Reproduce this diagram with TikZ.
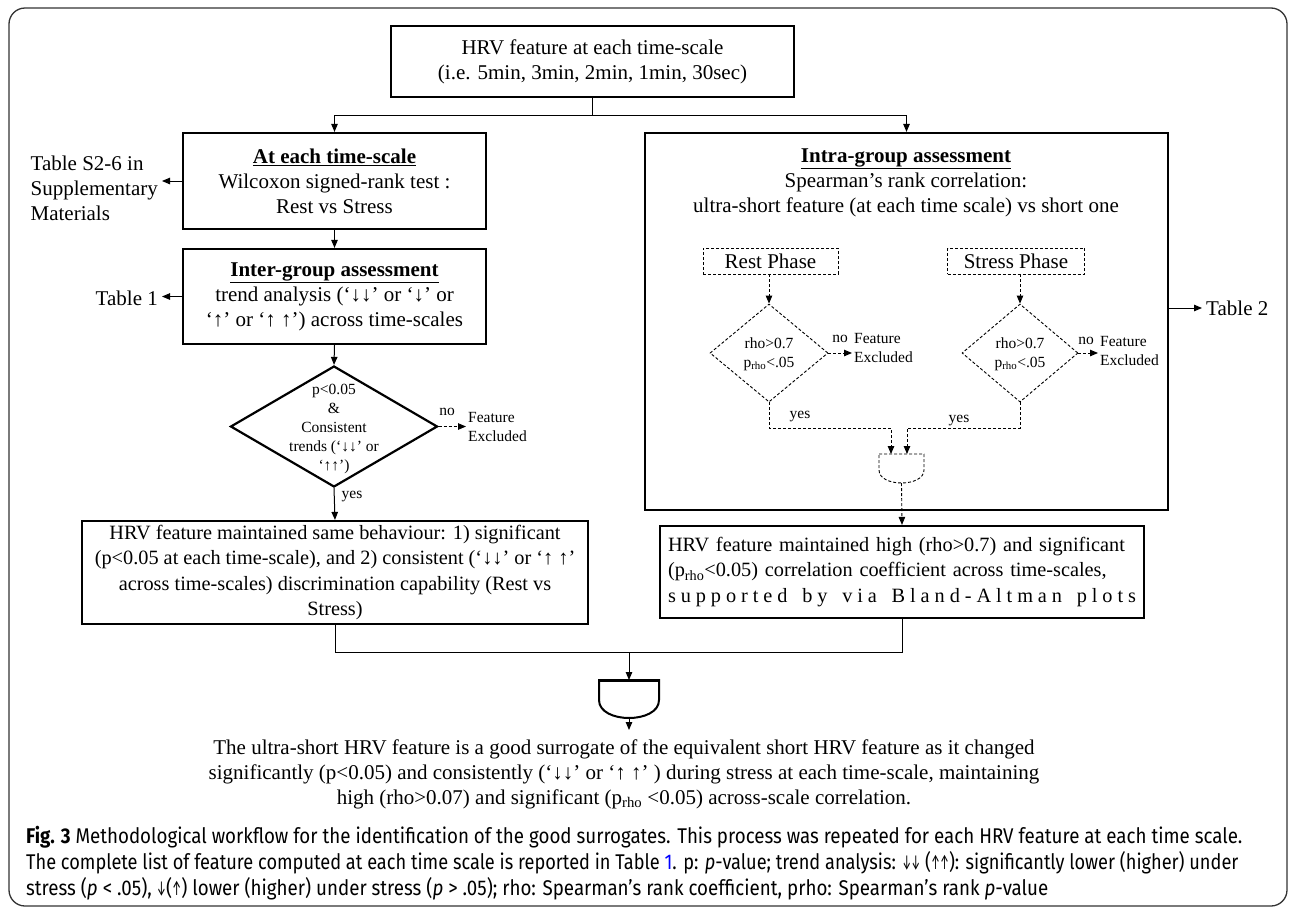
\documentclass[tikz,border=0pt]{standalone}
\usepackage{fontspec}
\setmainfont{Liberation Serif}
\newfontfamily\capfont[FakeStretch=0.88]{Fira Sans}
\usetikzlibrary{arrows.meta,shapes.geometric}

\newcommand\mainsz{\fontsize{21pt}{25pt}\selectfont}
\newcommand\boxsz{\fontsize{20.3pt}{25.5pt}\selectfont}
\newcommand\smallsz{\fontsize{15.5pt}{19pt}\selectfont}
\newcommand\capsz{\capfont\fontsize{21.3pt}{26pt}\selectfont}
\newcommand\prho{p\textsubscript{rho}}
\newcommand\capar[1]{\scalebox{0.55}[1]{#1}}

\begin{document}
\begin{tikzpicture}[x=1pt,y=-1pt,
  >={Triangle[length=8pt,width=6.5pt]},
  every node/.style={inner sep=0pt},
  box/.style={draw, line width=2.2pt, align=center, font=\mainsz},
  dbox/.style={draw, line width=0.9pt, dash pattern=on 3pt off 2pt, font=\mainsz},
  cond/.style={draw, diamond, line width=2.2pt},
  dcond/.style={draw, diamond, line width=0.9pt, dash pattern=on 3pt off 2pt},
  conn/.style={line width=1pt},
  dline/.style={line width=0.9pt, dash pattern=on 3pt off 2pt},
  smalltxt/.style={font=\smallsz, align=left}]

  \useasboundingbox (0,0) rectangle (1295,911);
  \draw[line width=1.3pt, black!80, rounded corners=16pt] (9,8) rectangle (1287,906);

  %% top
  \node[box, minimum width=403pt, minimum height=71pt] (feat) at (592.5,61.5)
  {HRV feature at each time-scale\\(i.e. 5min, 3min, 2min, 1min, 30sec)};
  \coordinate (split) at (592.5,115);

  %% left branch
  \node[box, minimum width=303pt, minimum height=96pt] (scale) at (334.5,181)
  {\underline{\textbf{At each time-scale}}\\Wilcoxon signed-rank test :\\Rest vs Stress};
  \node[box, minimum width=303pt, minimum height=95pt] (inter) at (334.5,296.5)
  {\underline{\textbf{Inter-group assessment}}\\trend analysis (‘↓↓’ or ‘↓’ or\\‘↑’ or ‘↑ ↑’) across time-scales};
  \node[cond, minimum width=207pt, minimum height=121pt] (test) at (334,426.5) {};
  \node[smalltxt, align=center] (testtxt) at (334,429)
  {p<0.05\\\&\\Consistent\\trends (‘↓↓’ or\\‘↑↑’)};
  \node[box, font=\boxsz, minimum width=506pt, minimum height=103pt] (same) at (335,572.5)
  {HRV feature maintained same behaviour: 1) significant\\(p<0.05 at each time-scale), and 2) consistent (‘↓↓’ or ‘↑ ↑’\\across time-scales) discrimination capability (Rest vs\\Stress)};

  \node[anchor=east, align=left, font=\mainsz, inner sep=4pt] (supp) at (162,188)
  {Table S2-6 in\\Supplementary\\Materials};
  \node[anchor=east, font=\mainsz, inner sep=4pt] (tab1) at (162,298) {Table 1};
  \node[smalltxt, anchor=west, inner sep=2pt] (exL) at (466,427) {Feature\\Excluded};
  \node[smalltxt] (noL) at (447,412) {no};
  \node[smalltxt] (yesL) at (352,497) {yes};

  %% right branch
  \node[box, minimum width=523pt, minimum height=377pt] (intra) at (906.5,321.5) {};
  \node[align=center, font=\mainsz] (intratxt) at (906,183)
  {\underline{\textbf{Intra-group assessment}}\\Spearman’s rank correlation:\\ultra-short feature (at each time scale) vs short one};
  \node[dbox, minimum width=135pt, minimum height=26pt] (rest) at (770.5,261) {Rest Phase};
  \node[dbox, minimum width=137pt, minimum height=26pt] (stress) at (1016,261) {Stress Phase};
  \node[dcond, minimum width=118pt, minimum height=98pt] (rtest) at (769,353) {};
  \node[dcond, minimum width=116pt, minimum height=98pt] (stest) at (1020,353) {};
  \node[smalltxt, align=center] (rtesttxt) at (769,354) {rho>0.7\\\prho<.05};
  \node[smalltxt, align=center] (stesttxt) at (1020,354) {rho>0.7\\\prho<.05};
  \node[smalltxt, anchor=west, inner sep=2pt] (exR) at (852,348) {Feature\\Excluded};
  \node[smalltxt, anchor=west, inner sep=2pt] (exS) at (1098,351) {Feature\\Excluded};
  \node[smalltxt] (noR) at (840,339) {no};
  \node[smalltxt] (noS) at (1086,341) {no};
  \node[smalltxt] (yesR) at (800,417) {yes};
  \node[smalltxt] (yesS) at (959,421) {yes};
  \node[anchor=west, font=\mainsz, inner sep=4pt] (tab2) at (1202,308) {Table 2};

  %% small and gate
  \draw[dline] (879,454) -- (924,454) -- (924,470)
    .. controls (924,487.3) and (879,487.3) .. (879,470) -- cycle;
  \coordinate (gsin1) at (891,454);
  \coordinate (gsin2) at (907,454);
  \coordinate (gsout) at (901.5,483);

  \node[box, font=\boxsz, minimum width=484pt, minimum height=92pt, text width=468pt] (high) at (902,572)
  {\makebox[\linewidth][s]{HRV feature maintained high (rho>0.7) and significant}\\
   \makebox[\linewidth][s]{(\prho<0.05) correlation coefficient across time-scales,}\\
   \makebox[\linewidth][s]{s\hfill u\hfill p\hfill p\hfill o\hfill r\hfill t\hfill e\hfill d\hfill\hfill\hfill b\hfill y\hfill\hfill\hfill v\hfill i\hfill a\hfill\hfill\hfill B\hfill l\hfill a\hfill n\hfill d\hfill -\hfill A\hfill l\hfill t\hfill m\hfill a\hfill n\hfill\hfill\hfill p\hfill l\hfill o\hfill t\hfill s}};

  %% big and gate
  \draw[line width=2pt] (599,680) -- (659,680) -- (659,700)
    .. controls (659,724) and (599,724) .. (599,700) -- cycle;
  \draw[line width=3pt] (599,680) -- (659,680);
  \coordinate (gtop) at (629,680);
  \coordinate (gbot) at (629,718);
  \coordinate (merge) at (629,652);

  \node[anchor=north, align=center, font=\mainsz, inner ysep=9pt] (final) at (624,730)
  {The ultra-short HRV feature is a good surrogate of the equivalent short HRV feature as it changed\\
   significantly (p<0.05) and consistently (‘↓↓’ or ‘↑ ↑’ ) during stress at each time-scale, maintaining\\
   high (rho>0.07) and significant (\prho{} <0.05) across-scale correlation.};

  \node[anchor=north west, align=left, font=\capsz] (cap) at (26,826)
  {\textbf{Fig. 3} Methodological workflow for the identification of the good surrogates. This process was repeated for each HRV feature at each time scale.\\
   \scalebox{0.97}[1]{The complete list of feature computed at each time scale is reported in Table {\color{blue}1}. p: \textit{p}-value; trend analysis: \capar{↓↓} (\capar{↑↑}): significantly lower (higher) under}\\
   stress (\textit{p} < .05), \capar{↓}(\capar{↑}) lower (higher) under stress (\textit{p} > .05); rho: Spearman’s rank coefficient, prho: Spearman’s rank \textit{p}-value};

  %% connectors
  \draw[conn] (feat.south) -- (split);
  \draw[conn,->] (split) -| (scale.north);
  \draw[conn,->] (split) -| (intra.north);
  \draw[conn,->] (scale.south) -- (inter.north);
  \draw[conn,->] (inter.south) -- (test.north);
  \draw[conn,->] (test.south) -- (same.north);
  \draw[dline,->] (test.east) -- (test.east -| exL.west);
  \draw[conn,->] (scale.west) -- (scale.west -| supp.east);
  \draw[conn,->] (inter.west) -- (inter.west -| tab1.east);
  \draw[conn,->] (intra.east |- tab2) -- (tab2.west);

  \draw[dline,->] (rtest.north |- rest.south) -- (rtest.north);
  \draw[dline,->] (stest.north |- stress.south) -- (stest.north);
  \draw[dline,->] (rtest.east) -- (rtest.east -| exR.west);
  \draw[dline,->] (stest.east) -- (stest.east -| exS.west);
  \draw[dline,->] (rtest.south) -- ++(0,26) -| (gsin1);
  \draw[dline,->] (stest.south) -- ++(0,26) -| (gsin2);
  \draw[dline,->] (gsout) -- (high.north);

  \draw[conn] (same.south) |- (merge);
  \draw[conn] (high.south) |- (merge);
  \draw[conn,->] (merge) -- (gtop);
  \draw[conn,->] (gbot) -- (final.north -| gbot);

\end{tikzpicture}
\end{document}
